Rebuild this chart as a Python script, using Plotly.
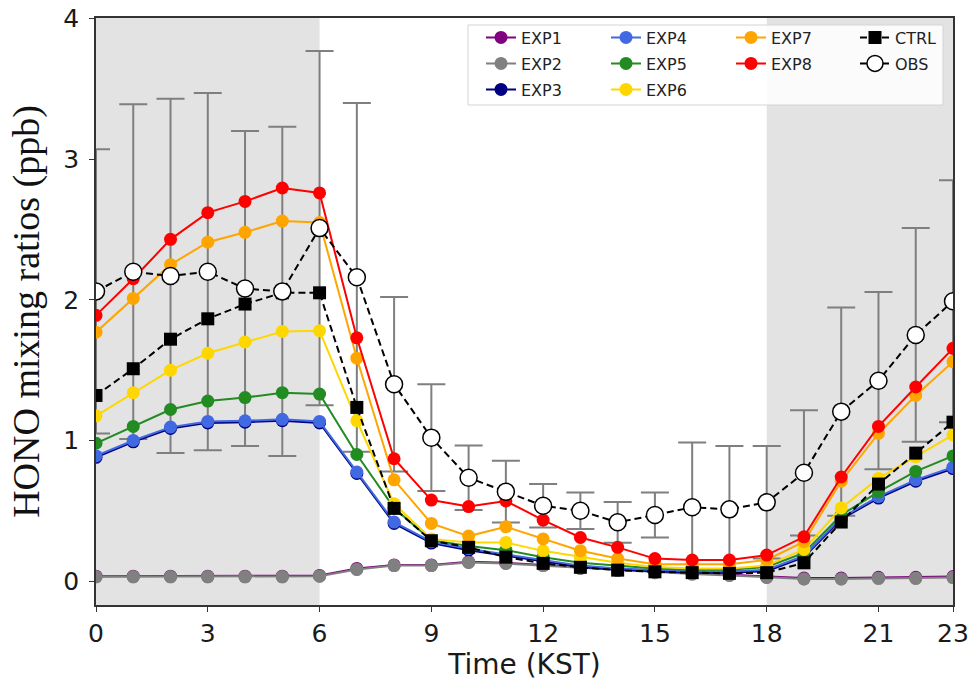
import plotly.graph_objects as go

hours = list(range(24))
tick_vals = [0, 3, 6, 9, 12, 15, 18, 21, 23]

exp1 = [0.035, 0.035, 0.035, 0.035, 0.035, 0.035, 0.04, 0.09, 0.115, 0.115, 0.138, 0.13,
        0.115, 0.095, 0.08, 0.065, 0.055, 0.045, 0.032, 0.022, 0.022, 0.027, 0.027, 0.032]
exp2 = [0.03, 0.03, 0.03, 0.03, 0.03, 0.03, 0.035, 0.083, 0.11, 0.11, 0.133, 0.125,
        0.11, 0.09, 0.075, 0.06, 0.05, 0.04, 0.026, 0.015, 0.015, 0.02, 0.02, 0.025]
exp3 = [0.88, 0.99, 1.085, 1.125, 1.13, 1.14, 1.125, 0.765, 0.41, 0.27, 0.22, 0.18,
        0.14, 0.10, 0.08, 0.07, 0.06, 0.06, 0.07, 0.17, 0.44, 0.59, 0.71, 0.80]
exp4 = [0.89, 1.00, 1.095, 1.135, 1.14, 1.15, 1.135, 0.775, 0.42, 0.28, 0.23, 0.19,
        0.15, 0.11, 0.09, 0.08, 0.07, 0.07, 0.08, 0.18, 0.45, 0.60, 0.72, 0.81]
exp5 = [0.98, 1.10, 1.22, 1.28, 1.305, 1.34, 1.33, 0.90, 0.52, 0.29, 0.25, 0.22,
        0.17, 0.13, 0.11, 0.09, 0.08, 0.08, 0.10, 0.20, 0.47, 0.635, 0.78, 0.89]
exp6 = [1.175, 1.34, 1.50, 1.62, 1.70, 1.775, 1.78, 1.14, 0.55, 0.30, 0.275, 0.275,
        0.215, 0.17, 0.13, 0.10, 0.09, 0.09, 0.11, 0.225, 0.52, 0.73, 0.885, 1.04]
exp7 = [1.77, 2.01, 2.25, 2.41, 2.48, 2.56, 2.55, 1.585, 0.72, 0.41, 0.32, 0.386,
        0.30, 0.216, 0.16, 0.12, 0.12, 0.12, 0.15, 0.28, 0.71, 1.05, 1.32, 1.56]
exp8 = [1.89, 2.15, 2.43, 2.62, 2.70, 2.795, 2.76, 1.73, 0.87, 0.576, 0.53, 0.57,
        0.434, 0.31, 0.24, 0.16, 0.15, 0.15, 0.185, 0.315, 0.74, 1.10, 1.38, 1.655]
ctrl = [1.32, 1.51, 1.72, 1.865, 1.97, 2.05, 2.05, 1.235, 0.517, 0.287, 0.24, 0.17,
        0.126, 0.098, 0.078, 0.066, 0.06, 0.055, 0.06, 0.13, 0.42, 0.69, 0.91, 1.13]
obs = [2.06, 2.20, 2.17, 2.20, 2.08, 2.06, 2.51, 2.16, 1.40, 1.02, 0.735, 0.636,
       0.536, 0.50, 0.418, 0.47, 0.525, 0.51, 0.56, 0.77, 1.205, 1.425, 1.75, 1.99]
obs_err = [1.01, 1.19, 1.26, 1.27, 1.12, 1.17, 1.26, 1.24, 0.62, 0.38, 0.23, 0.22,
           0.155, 0.13, 0.145, 0.16, 0.46, 0.45, 0.40, 0.445, 0.74, 0.63, 0.76, 0.86]

night_periods = [(0, 6), (18, 23)]

series = [
    ("EXP1", exp1, "#800080"),
    ("EXP2", exp2, "#808080"),
    ("EXP3", exp3, "#000080"),
    ("EXP4", exp4, "#4169e1"),
    ("EXP5", exp5, "#228b22"),
    ("EXP6", exp6, "#ffd700"),
    ("EXP7", exp7, "#ffa500"),
    ("EXP8", exp8, "#ff0000"),
]

# legend slots: (row, col)
legend_slots = {
    "EXP1": (0, 0), "EXP2": (1, 0), "EXP3": (2, 0),
    "EXP4": (0, 1), "EXP5": (1, 1), "EXP6": (2, 1),
    "EXP7": (0, 2), "EXP8": (1, 2),
    "CTRL": (0, 3), "OBS": (1, 3),
}
legend_names = list(legend_slots.keys())

# figure fills the 972x682 window (body margin removed via post_script)
W, H = 972, 682
PL, PT, PR, PB = 96, 18, 953, 605  # plot area in window pixels
L, T = PL, PT
R = W - PR
B = H - PB
pw, ph = PR - PL, PB - PT


def px2x(px):
    return (px - PL) / pw


def px2y(py):
    return (PB - py) / ph


fig = go.Figure()

# error bars of observations (drawn behind model lines)
fig.add_trace(go.Scatter(
    x=hours, y=obs, mode="markers", marker=dict(opacity=0, size=2),
    error_y=dict(type="data", array=obs_err, visible=True, color="#7f7f7f",
                 thickness=2, width=14),
    showlegend=False, hoverinfo="skip"))


def leg_id(name):
    i = legend_names.index(name)
    return "legend" if i == 0 else f"legend{i+1}"


for name, vals, col in series:
    fig.add_trace(go.Scatter(
        x=hours, y=vals, mode="lines+markers", name=name,
        line=dict(color=col, width=2),
        marker=dict(color=col, size=13, symbol="circle"),
        legend=leg_id(name)))

# grey markers of EXP2 on top of EXP1 line
fig.add_trace(go.Scatter(
    x=hours, y=exp2, mode="markers", marker=dict(color="#808080", size=13),
    showlegend=False, hoverinfo="skip"))

fig.add_trace(go.Scatter(
    x=hours, y=ctrl, mode="lines+markers", name="CTRL",
    line=dict(color="black", width=2, dash="7px,4px"),
    marker=dict(color="black", size=13, symbol="square"),
    legend=leg_id("CTRL")))

fig.add_trace(go.Scatter(
    x=hours, y=obs, mode="lines+markers", name="OBS",
    line=dict(color="black", width=2, dash="7px,4px"),
    marker=dict(color="white", size=17, symbol="circle",
                line=dict(color="black", width=1.5)),
    legend=leg_id("OBS")))

shapes = []
for a, b in night_periods:
    shapes.append(dict(type="rect", xref="x", yref="paper", x0=a, x1=b, y0=0, y1=1,
                       fillcolor="#e3e3e3", line=dict(width=0), layer="below"))
# legend frame
shapes.append(dict(type="rect", xref="paper", yref="paper",
                   x0=px2x(468), x1=px2x(943), y0=px2y(105), y1=px2y(25),
                   fillcolor="rgba(255,255,255,0.85)",
                   line=dict(color="#d4d4d4", width=1), layer="below"))

row_y = [37.5, 63.5, 89.5]
col_text_x = [523, 648, 773, 897]
legends = {}
for name, (r, c) in legend_slots.items():
    key = leg_id(name)
    legends[key] = dict(
        x=px2x(col_text_x[c] - 42), y=px2y(row_y[r]), xanchor="left", yanchor="middle",
        bgcolor="rgba(0,0,0,0)", borderwidth=0,
        font=dict(family="DejaVu Sans", size=16, color="#222222"),
        itemwidth=30)

fig.update_layout(
    width=W, height=H,
    margin=dict(l=L, r=R, t=T, b=B, autoexpand=False),
    paper_bgcolor="white", plot_bgcolor="white",
    shapes=shapes,
    **legends,
    xaxis=dict(range=[0, 23], tickvals=tick_vals, showgrid=False, zeroline=False,
               showline=True, linecolor="#333333", linewidth=1.5, mirror=True,
               ticks="outside", ticklen=5, tickcolor="#333333",
               ticklabeloverflow="allow",
               tickfont=dict(family="DejaVu Sans", size=25, color="#1a1a1a"),
               title=dict(text="Time (KST)", standoff=6,
                          font=dict(family="DejaVu Sans", size=28, color="#1a1a1a"))),
    yaxis=dict(range=[-0.17, 4.004], tickvals=[0, 1, 2, 3, 4], showgrid=False, zeroline=False,
               showline=True, linecolor="#333333", linewidth=1.5, mirror=True,
               ticks="outside", ticklen=5, tickcolor="#333333",
               ticklabeloverflow="allow",
               tickfont=dict(family="DejaVu Sans", size=25, color="#1a1a1a"),
               ticklabelstandoff=5,
               title=dict(text="HONO mixing ratios (ppb)", standoff=12,
                          font=dict(family="Liberation Serif", size=38, color="#111111"))),
)

fig.write_html("out.html", config={"displayModeBar": False},
               post_script="document.body.style.margin='0';document.body.style.overflow='hidden';")
